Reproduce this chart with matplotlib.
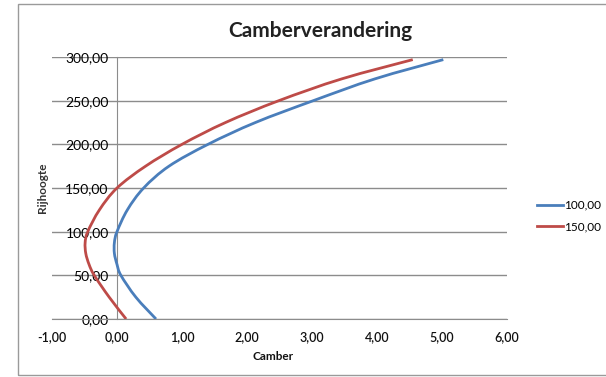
"""Camberverandering: camber vs rijhoogte (Excel-style scatter)."""
import matplotlib
matplotlib.use("Agg")
import matplotlib.pyplot as plt
from matplotlib.lines import Line2D
from matplotlib.patches import PathPatch, Rectangle
from matplotlib.path import Path

plt.rcParams['font.family'] = ['Lato', 'DejaVu Sans']

# ride height (y) and camber (x)
rijhoogte = [0, 25, 50, 62.5, 75, 87.5, 100, 125, 150, 175, 200, 225, 250, 275, 297]
camber_100 = [0.60, 0.29, 0.06, 0.00, -0.04, -0.04, 0.00, 0.16, 0.41, 0.80, 1.40, 2.13, 3.02, 3.97, 5.02]
camber_150 = [0.14, -0.12, -0.35, -0.43, -0.48, -0.49, -0.45, -0.27, 0.00, 0.44, 1.00, 1.67, 2.49, 3.46, 4.55]
series_names = ["100,00", "150,00"]
x_ticks = [-1, 0, 1, 2, 3, 4, 5, 6]
y_ticks = [0, 50, 100, 150, 200, 250, 300]

BLUE = "#4A7EBB"
RED = "#BE4B48"
GRAY = "#8C8C8C"


def fmt(v):
    return f"{v:.2f}".replace(".", ",")


def smooth_path(xs, ys):
    """Excel-like smoothed line: cubic Bezier segments through the points."""
    pts = list(zip(xs, ys))
    verts = [pts[0]]
    codes = [Path.MOVETO]
    n = len(pts)
    for i in range(n - 1):
        p0 = pts[i - 1] if i > 0 else pts[i]
        p1, p2 = pts[i], pts[i + 1]
        p3 = pts[i + 2] if i + 2 < n else pts[i + 1]
        c1 = (p1[0] + (p2[0] - p0[0]) / 6, p1[1] + (p2[1] - p0[1]) / 6)
        c2 = (p2[0] - (p3[0] - p1[0]) / 6, p2[1] - (p3[1] - p1[1]) / 6)
        verts += [c1, c2, p2]
        codes += [Path.CURVE4] * 3
    return Path(verts, codes)


fig = plt.figure(figsize=(6.06, 3.77), dpi=100)
ax = fig.add_axes([52 / 606, 1 - 319 / 377, 455 / 606, 262 / 377])

for xs, color in [(camber_100, BLUE), (camber_150, RED)]:
    ax.add_patch(PathPatch(smooth_path(xs, rijhoogte), fill=False, ec=color, lw=2.0,
                           capstyle='butt', zorder=3))

ax.set_xlim(-1, 6)
ax.set_ylim(0, 300)
ax.set_xticks(x_ticks)
ax.set_yticks(y_ticks)
ax.set_xticklabels([fmt(v) for v in x_ticks], fontsize=9, color="#111111", fontweight='semibold')
ax.set_yticklabels([fmt(v) for v in y_ticks], fontsize=9, color="#777777")
ax.tick_params(axis='both', length=0)
ax.tick_params(axis='x', pad=9)
ax.tick_params(axis='y', pad=6)

ax.grid(True, axis='y', color=GRAY, lw=1.0)
ax.set_axisbelow(True)
for s in ['top', 'right']:
    ax.spines[s].set_visible(False)
ax.spines['left'].set_position(('data', 0))
ax.spines['left'].set_color(GRAY)
ax.spines['bottom'].set_color(GRAY)

fig.text(320 / 606, 1 - 31 / 377, "Camberverandering", ha='center', va='center',
         fontsize=15, fontweight='bold', color="#222222")
fig.text(273 / 606, 1 - 357 / 377, "Camber", ha='center', va='center',
         fontsize=8.5, fontweight='bold', color="#111111")
fig.text(42 / 606, 1 - 188 / 377, "Rijhoogte", ha='center', va='center', rotation=90,
         fontsize=8.5, fontweight='bold', color="#333333")

handles = [Line2D([], [], color=BLUE, lw=2.0), Line2D([], [], color=RED, lw=2.0)]
fig.legend(handles, series_names, loc='center left', bbox_to_anchor=(526 / 606, 1 - 216 / 377),
           frameon=False, fontsize=8.5, handlelength=2.2, handletextpad=0.1, labelspacing=0.9)

# chart area border
fig.patches.append(Rectangle((18 / 606, 1 - 375 / 377), 1.0, 371 / 377, transform=fig.transFigure,
                             fill=False, ec="#9a9a9a", lw=1.0))

fig.savefig("out.png", dpi=100)
